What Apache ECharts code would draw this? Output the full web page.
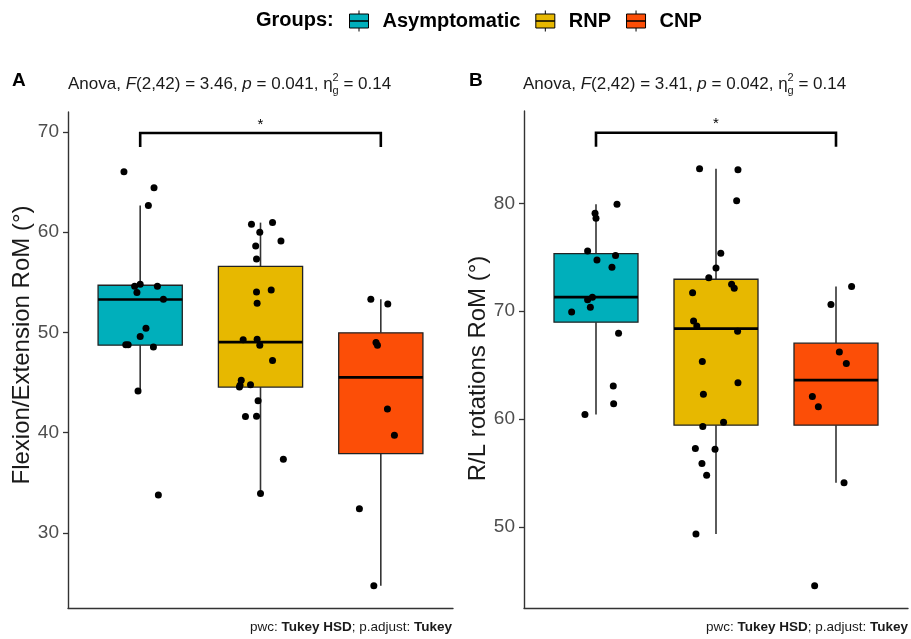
<!DOCTYPE html>
<html>
<head>
<meta charset="utf-8">
<script src="https://cdn.jsdelivr.net/npm/echarts@6/dist/echarts.min.js"></script>
<style>
  html, body { margin: 0; padding: 0; background: #ffffff; }
  #chart { width: 911px; height: 639px; }
</style>
</head>
<body>
<div id="chart"></div>
<script>
// ---- groups ----
const groups = ['Asymptomatic', 'RNP', 'CNP'];
const groupColors = ['#00AFBB', '#E7B800', '#FC4E07'];

// ---- panel A: flexion/extension range of motion (deg) ----
// box summaries: [lower whisker, Q1, median, Q3, upper whisker]
const flexBoxAsym = [44.15, 48.73, 53.29, 54.71, 62.68];
const flexBoxRnp  = [33.92, 44.55, 49.03, 56.60, 60.96];
const flexBoxCnp  = [24.73, 37.91, 45.52, 49.96, 53.32];
// individual subjects and their horizontal jitter (category units)
const flexAsym = [66.04, 64.44, 62.68, 54.61, 54.81, 54.61, 53.98, 53.32, 50.43, 49.60, 48.77, 48.77, 48.54, 44.15, 33.77];
const flexAsymJit = [-0.135, 0.115, 0.068, -0.046, 0.0, 0.143, -0.027, 0.193, 0.048, 0.0, -0.12, -0.10, 0.11, -0.018, 0.151];
const flexRnp = [60.79, 60.96, 59.99, 58.63, 59.12, 57.33, 54.04, 54.24, 52.92, 49.27, 49.33, 48.73, 47.21, 45.22, 44.72, 44.55, 44.78, 43.19, 41.60, 41.63, 37.35, 33.92];
const flexRnpJit = [-0.075, 0.10, -0.006, -0.04, 0.17, -0.033, -0.033, 0.089, -0.028, -0.144, -0.028, -0.006, 0.10, -0.16, -0.17, -0.175, -0.083, -0.02, -0.125, -0.033, 0.19, 0.0];
const flexCnp = [53.32, 52.85, 49.00, 48.73, 42.36, 39.74, 32.40, 24.73];
const flexCnpJit = [-0.083, 0.058, -0.04, -0.028, 0.055, 0.113, -0.178, -0.058];
const flexTicks = [30, 40, 50, 60, 70];
const flexRange = [22.5, 72.0];
// significance bracket: [from group, to group, bar level, tip level]
const flexBracket = [0, 2, 69.9, 68.5];

// ---- panel B: right/left rotations range of motion (deg) ----
const rotBoxAsym = [60.43, 68.98, 71.30, 75.33, 79.91];
const rotBoxRnp  = [49.35, 59.44, 68.39, 72.96, 83.20];
const rotBoxCnp  = [54.10, 59.44, 63.61, 67.04, 72.28];
const rotAsym = [79.91, 79.07, 78.61, 75.58, 75.15, 74.75, 74.07, 71.30, 71.05, 70.37, 69.93, 67.96, 63.08, 61.42, 60.43];
const rotAsymJit = [0.175, -0.008, 0.0, -0.07, 0.163, 0.008, 0.133, -0.03, -0.07, -0.047, -0.203, 0.188, 0.144, 0.147, -0.092];
const rotRnp = [83.20, 83.11, 80.24, 75.37, 74.01, 73.11, 72.50, 72.13, 71.72, 69.10, 68.64, 68.15, 65.33, 63.36, 62.31, 59.72, 59.31, 57.28, 57.22, 55.89, 54.81, 49.35];
const rotRnpJit = [-0.137, 0.183, 0.172, 0.04, 0.0, -0.06, 0.13, 0.152, -0.195, -0.187, -0.16, 0.18, -0.114, 0.183, -0.105, 0.063, -0.11, -0.172, -0.008, -0.117, -0.078, -0.167];
const rotCnp = [72.28, 70.61, 66.23, 65.15, 62.10, 61.14, 54.10, 44.57];
const rotCnpJit = [0.13, -0.042, 0.028, 0.086, -0.197, -0.147, 0.067, -0.178];
const rotTicks = [50, 60, 70, 80];
const rotRange = [42.5, 88.55];
const rotBracket = [0, 2, 86.54, 85.24];

// ---- ANOVA annotations ----
const panelLetters = ['A', 'B'];
const anovaDf = ['2,42', '2,42'];
const anovaF = ['3.46', '3.41'];
const anovaP = ['0.041', '0.042'];
const anovaEta = ['0.14', '0.14'];
const yTitles = ['Flexion/Extension RoM (°)', 'R/L rotations RoM (°)'];

const FONT = '"Liberation Sans", Arial, Helvetica, sans-serif';
const BOX_HALF = 0.35;

function renderBox(params, api) {
  const x = api.value(0);
  const lo = api.value(1), q1 = api.value(2), med = api.value(3), q3 = api.value(4), hi = api.value(5);
  const tl = api.coord([x - BOX_HALF, q3]);
  const br = api.coord([x + BOX_HALF, q1]);
  const top = api.coord([x, hi]);
  const bot = api.coord([x, lo]);
  const mL = api.coord([x - BOX_HALF, med]);
  const mR = api.coord([x + BOX_HALF, med]);
  const wStyle = { stroke: '#333333', lineWidth: 1.6 };
  return {
    type: 'group',
    children: [
      { type: 'line', shape: { x1: top[0], y1: top[1], x2: top[0], y2: tl[1] }, style: wStyle },
      { type: 'line', shape: { x1: bot[0], y1: br[1], x2: bot[0], y2: bot[1] }, style: wStyle },
      { type: 'rect', shape: { x: tl[0], y: tl[1], width: br[0] - tl[0], height: br[1] - tl[1] },
        style: { fill: api.visual('color'), stroke: '#222222', lineWidth: 1.3 } },
      { type: 'line', shape: { x1: mL[0], y1: mL[1], x2: mR[0], y2: mR[1] }, style: { stroke: '#000000', lineWidth: 2.6 } }
    ]
  };
}

function renderBracket(params, api) {
  const x0 = api.value(0), x1 = api.value(1), yb = api.value(2), yt = api.value(3);
  const a = api.coord([x0, yt]), b = api.coord([x0, yb]), c = api.coord([x1, yb]), d = api.coord([x1, yt]);
  return {
    type: 'group',
    children: [
      { type: 'polyline', shape: { points: [a, b, c, d] }, style: { stroke: '#000000', lineWidth: 2.6, fill: null } },
      { type: 'text', x: (b[0] + c[0]) / 2, y: b[1] - 1,
        style: { text: '*', fill: '#000000', font: '15px ' + FONT, align: 'center', verticalAlign: 'bottom' } }
    ]
  };
}

const panels = [
  { boxes: [flexBoxAsym, flexBoxRnp, flexBoxCnp], pts: [flexAsym, flexRnp, flexCnp],
    jit: [flexAsymJit, flexRnpJit, flexCnpJit], ticks: flexTicks, range: flexRange, bracket: flexBracket,
    grid: { left: 68, top: 112, width: 385, height: 496 }, namePad: [0, 0, 0, 30] },
  { boxes: [rotBoxAsym, rotBoxRnp, rotBoxCnp], pts: [rotAsym, rotRnp, rotCnp],
    jit: [rotAsymJit, rotRnpJit, rotCnpJit], ticks: rotTicks, range: rotRange, bracket: rotBracket,
    grid: { left: 524, top: 111, width: 384, height: 497 }, namePad: [0, 18, 0, 0] }
];

const grid = [], xAxis = [], yAxis = [], series = [];
const titles = [];

panels.forEach((p, pi) => {
  grid.push(Object.assign({ containLabel: false, outerBoundsMode: 'none' }, p.grid));
  xAxis.push({
    type: 'value', gridIndex: pi, min: -0.6, max: 2.6,
    axisLine: { show: true, onZero: false, lineStyle: { color: '#333333', width: 1.4 } },
    axisTick: { show: false }, axisLabel: { show: false }, splitLine: { show: false }
  });
  yAxis.push({
    type: 'value', gridIndex: pi, min: p.range[0], max: p.range[1],
    name: yTitles[pi], nameLocation: 'middle', nameRotate: 90, nameGap: 34,
    nameTextStyle: { fontFamily: FONT, fontSize: 24, color: '#1a1a1a', padding: p.namePad },
    axisLine: { show: true, onZero: false, lineStyle: { color: '#333333', width: 1.4 } },
    axisTick: { show: true, length: 5, customValues: p.ticks, lineStyle: { color: '#333333', width: 1.3 } },
    axisLabel: { show: true, customValues: p.ticks, fontFamily: FONT, fontSize: 19, color: '#4d4d4d', margin: 9 },
    splitLine: { show: false }
  });
  groups.forEach((g, gi) => {
    series.push({
      type: 'custom', name: g, xAxisIndex: pi, yAxisIndex: pi, z: 2,
      itemStyle: { color: groupColors[gi] },
      renderItem: renderBox,
      encode: { x: 0, y: [1, 2, 3, 4, 5] },
      data: [[gi].concat(p.boxes[gi])]
    });
  });
  groups.forEach((g, gi) => {
    series.push({
      type: 'scatter', name: 'subjects-' + pi + '-' + gi, xAxisIndex: pi, yAxisIndex: pi, z: 5,
      symbol: 'circle', symbolSize: 7,
      itemStyle: { color: '#000000', opacity: 1 },
      data: p.pts[gi].map((v, k) => [gi + p.jit[gi][k], v])
    });
  });
  series.push({
    type: 'custom', name: 'bracket-' + pi, xAxisIndex: pi, yAxisIndex: pi, z: 6,
    renderItem: renderBracket, encode: { x: [0, 1], y: [2, 3] },
    data: [p.bracket]
  });

  // panel letter
  titles.push({
    text: panelLetters[pi], left: pi === 0 ? 12 : 469, top: 71, padding: 0,
    textStyle: { fontFamily: FONT, fontSize: 19, fontWeight: 'bold', color: '#000000', lineHeight: 20 }
  });
  // ANOVA subtitle
  titles.push({
    left: pi === 0 ? 68 : 523, top: 72, padding: 0,
    text: '{n|Anova, }{i|F}{n|(' + anovaDf[pi] + ') = ' + anovaF[pi] + ', }{i|p}{n| = ' + anovaP[pi] +
          ', η}{sup|2}{sub|g}{n| = ' + anovaEta[pi] + '}',
    textStyle: {
      fontFamily: FONT, color: '#1a1a1a', fontWeight: 'normal',
      rich: {
        n: { fontFamily: FONT, fontSize: 17, fontWeight: 'normal', color: '#1a1a1a', lineHeight: 24 },
        i: { fontFamily: FONT, fontSize: 17, fontWeight: 'normal', fontStyle: 'italic', color: '#1a1a1a', lineHeight: 24 },
        sup: { fontFamily: FONT, fontSize: 11, fontWeight: 'normal', color: '#1a1a1a', width: 0, verticalAlign: 'top', lineHeight: 14 },
        sub: { fontFamily: FONT, fontSize: 11, fontWeight: 'normal', color: '#1a1a1a', verticalAlign: 'bottom', lineHeight: 12 }
      }
    }
  });
  // multiple-comparison note
  titles.push({
    right: pi === 0 ? 459 : 3, top: 620, padding: 0,
    text: '{n|pwc: }{b|Tukey HSD}{n|; p.adjust: }{b|Tukey}',
    textStyle: {
      fontWeight: 'normal',
      rich: {
        n: { fontFamily: FONT, fontSize: 13.5, fontWeight: 'normal', color: '#1a1a1a' },
        b: { fontFamily: FONT, fontSize: 13.5, fontWeight: 'bold', color: '#1a1a1a' }
      }
    }
  });
});

titles.push({
  text: 'Groups:', left: 256, top: 9, padding: 0,
  textStyle: { fontFamily: FONT, fontSize: 20, fontWeight: 'bold', color: '#000000', lineHeight: 22 }
});

const chart = echarts.init(document.getElementById('chart'), null, { renderer: 'canvas' });
chart.setOption({
  animation: false,
  backgroundColor: '#ffffff',
  title: titles,
  legend: {
    data: groups, left: 349, top: 10, orient: 'horizontal', padding: 0,
    itemWidth: 19, itemHeight: 21, itemGap: 15, selectedMode: false,
    icon: 'path://M9.5,0V3.5M0,3.5H19V10.5H0ZM0,10.5H19V17.5H0ZM9.5,17.5V21',
    itemStyle: { borderColor: '#000000', borderWidth: 1 },
    textStyle: { fontFamily: FONT, fontSize: 20, fontWeight: 'bold', color: '#000000', padding: [0, 0, 0, 9] }
  },
  grid: grid,
  xAxis: xAxis,
  yAxis: yAxis,
  series: series
});
</script>
</body>
</html>
